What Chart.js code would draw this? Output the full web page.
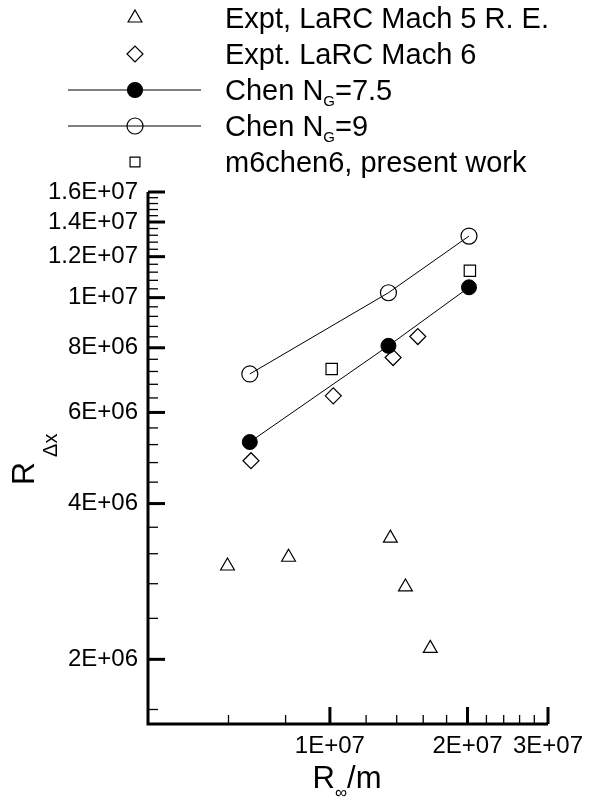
<!DOCTYPE html>
<html>
<head>
<meta charset="utf-8">
<title>R_dx vs R_inf/m</title>
<script src="https://cdn.jsdelivr.net/npm/chart.js@4.4.1/dist/chart.umd.min.js"></script>
<style>
  html, body { margin: 0; padding: 0; background: #fff; }
</style>
</head>
<body>
<canvas id="chart-area" width="593" height="802"></canvas>
<script>
// unit Reynolds number R_inf/m (x) and transition Reynolds number R_dx (y)
var mach5X = [5.97e6, 8.12e6, 1.356e7, 1.463e7, 1.658e7];
var mach5Y = [3.03e6, 3.15e6, 3.43e6, 2.76e6, 2.10e6];
var mach6X = [6.72e6, 1.017e7, 1.375e7, 1.557e7];
var mach6Y = [4.84e6, 6.46e6, 7.66e6, 8.41e6];
var chenX = [6.68e6, 1.343e7, 2.015e7];
var chen75Y = [5.26e6, 8.07e6, 1.047e7];
var chen9Y = [7.12e6, 1.022e7, 1.315e7];
var presentX = [1.009e7, 2.024e7];
var presentY = [7.28e6, 1.127e7];

// axis ticks
var xMajor = [1e7, 2e7, 3e7];
var xMajorLabels = ['1E+07', '2E+07', '3E+07'];
var xMinor = [6e6, 8e6, 1.2e7, 1.4e7, 1.6e7, 1.8e7, 2.2e7, 2.4e7, 2.6e7, 2.8e7];
var yMajor = [2e6, 4e6, 6e6, 8e6, 1e7, 1.2e7, 1.4e7, 1.6e7];
var yMajorLabels = ['2E+06', '4E+06', '6E+06', '8E+06', '1E+07', '1.2E+07', '1.4E+07', '1.6E+07'];
var yMinor = [1.6e6, 2.4e6, 2.8e6, 3.2e6, 3.6e6, 4.4e6, 4.8e6, 5.2e6, 5.6e6,
              6.4e6, 6.8e6, 7.2e6, 7.6e6, 8.4e6, 8.8e6, 9.2e6, 9.6e6,
              1.04e7, 1.08e7, 1.12e7, 1.16e7, 1.24e7, 1.28e7, 1.32e7, 1.36e7,
              1.44e7, 1.48e7, 1.52e7, 1.56e7];

var FONT = '"Liberation Sans", Arial, sans-serif';

function pts(xs, ys) {
    return xs.map(function (x, i) { return {x: x, y: ys[i]}; });
}

function tickList(major, minor) {
    return major.concat(minor).sort(function (a, b) { return a - b; })
        .map(function (v) { return {value: v}; });
}

// text with optional subscript pieces: [['Chen N'], ['G', 1], ['=7.5']]
function richWidth(ctx, parts, size, subSize) {
    var w = 0;
    parts.forEach(function (p) {
        ctx.font = (p[1] ? subSize : size) + 'px ' + FONT;
        w += ctx.measureText(p[0]).width;
    });
    return w;
}

function drawRich(ctx, parts, x, y, size, subSize, subDrop) {
    ctx.textAlign = 'left';
    ctx.textBaseline = 'alphabetic';
    parts.forEach(function (p) {
        ctx.font = (p[1] ? subSize : size) + 'px ' + FONT;
        ctx.fillText(p[0], x, p[1] ? y + subDrop : y);
        x += ctx.measureText(p[0]).width;
    });
}

var legendRows = [
    {parts: [['Expt, LaRC Mach 5 R. E.']], style: 'triangle', radius: 8, fill: false, line: false},
    {parts: [['Expt. LaRC Mach 6']], style: 'rectRot', radius: 8, fill: false, line: false},
    {parts: [['Chen N'], ['G', 1], ['=7.5']], style: 'circle', radius: 7.5, fill: true, line: true},
    {parts: [['Chen N'], ['G', 1], ['=9']], style: 'circle', radius: 8, fill: false, line: true},
    {parts: [['m6chen6, present work']], style: 'rect', radius: 7, fill: false, line: false}
];

var frame = {
    id: 'frame',
    afterDraw: function (chart) {
        var ctx = chart.ctx;
        var a = chart.chartArea;
        var xs = chart.scales.x;
        var ys = chart.scales.y;
        ctx.save();
        ctx.strokeStyle = '#000';
        ctx.fillStyle = '#000';

        function seg(x1, y1, x2, y2, w) {
            ctx.lineWidth = w;
            ctx.beginPath();
            ctx.moveTo(x1, y1);
            ctx.lineTo(x2, y2);
            ctx.stroke();
        }

        // inward tick marks
        xMajor.forEach(function (v) {
            var p = xs.getPixelForValue(v);
            seg(p, a.bottom, p, a.bottom - 17, 3);
        });
        xMinor.forEach(function (v) {
            var p = xs.getPixelForValue(v);
            seg(p, a.bottom, p, a.bottom - 9, 1.3);
        });
        yMajor.forEach(function (v) {
            var p = ys.getPixelForValue(v);
            seg(a.left, p, a.left + 17, p, 3);
        });
        yMinor.forEach(function (v) {
            var p = ys.getPixelForValue(v);
            seg(a.left, p, a.left + 10, p, 1.3);
        });

        // axis lines
        ctx.lineWidth = 3;
        ctx.lineJoin = 'miter';
        ctx.beginPath();
        ctx.moveTo(a.left, a.top);
        ctx.lineTo(a.left, a.bottom);
        ctx.lineTo(a.right, a.bottom);
        ctx.stroke();

        // legend
        legendRows.forEach(function (row, i) {
            var y = 18 + 36 * i;
            if (row.line) {
                seg(68, y, 201, y, 1);
            }
            ctx.lineWidth = 1.2;
            ctx.fillStyle = row.fill ? '#000' : 'rgba(0,0,0,0)';
            Chart.helpers.drawPoint(ctx, {pointStyle: row.style, radius: row.radius, borderWidth: 1.2, rotation: 0}, 135, y);
            ctx.fillStyle = '#000';
            drawRich(ctx, row.parts, 225, y + 10, 29, 15, 6);
        });

        // y axis title, rotated
        ctx.save();
        ctx.translate(34, 485);
        ctx.rotate(-Math.PI / 2);
        ctx.font = '32px ' + FONT;
        ctx.textAlign = 'left';
        ctx.textBaseline = 'alphabetic';
        ctx.fillText('R', 0, 0);
        var rw = ctx.measureText('R').width;
        ctx.font = '20px ' + FONT;
        ctx.fillText('\u0394x', rw + 5, 23);
        ctx.restore();

        // x axis title
        var xt = [['R'], ['\u221E', 1], ['/m']];
        var w = richWidth(ctx, xt, 31, 17);
        drawRich(ctx, xt, 347 - w / 2, 788, 31, 17, 10);

        ctx.restore();
    }
};

var config = {
    type: 'scatter',
    data: {
        datasets: [{
            label: 'Expt, LaRC Mach 5 R. E.',
            data: pts(mach5X, mach5Y),
            pointStyle: 'triangle',
            pointRadius: 8,
            pointBorderWidth: 1.2,
            pointBorderColor: '#000',
            pointBackgroundColor: 'rgba(0,0,0,0)',
            showLine: false
        }, {
            label: 'Expt. LaRC Mach 6',
            data: pts(mach6X, mach6Y),
            pointStyle: 'rectRot',
            pointRadius: 8,
            pointBorderWidth: 1.2,
            pointBorderColor: '#000',
            pointBackgroundColor: 'rgba(0,0,0,0)',
            showLine: false
        }, {
            label: 'Chen NG=7.5',
            data: pts(chenX, chen75Y),
            pointStyle: 'circle',
            pointRadius: 7.5,
            pointBorderWidth: 1,
            pointBorderColor: '#000',
            pointBackgroundColor: '#000',
            borderColor: '#000',
            borderWidth: 1,
            showLine: true
        }, {
            label: 'Chen NG=9',
            data: pts(chenX, chen9Y),
            pointStyle: 'circle',
            pointRadius: 8,
            pointBorderWidth: 1.2,
            pointBorderColor: '#000',
            pointBackgroundColor: 'rgba(0,0,0,0)',
            borderColor: '#000',
            borderWidth: 1,
            showLine: true
        }, {
            label: 'm6chen6, present work',
            data: pts(presentX, presentY),
            pointStyle: 'rect',
            pointRadius: 8,
            pointBorderWidth: 1.2,
            pointBorderColor: '#000',
            pointBackgroundColor: 'rgba(0,0,0,0)',
            showLine: false
        }]
    },
    options: {
        responsive: false,
        animation: false,
        clip: false,
        layout: {
            padding: {top: 192, right: 45, left: 0, bottom: 0}
        },
        plugins: {
            legend: {display: false},
            tooltip: {enabled: false}
        },
        scales: {
            x: {
                type: 'logarithmic',
                min: 4e6,
                max: 3e7,
                grid: {display: false, drawTicks: false},
                border: {display: false},
                ticks: {
                    autoSkip: false,
                    maxRotation: 0,
                    padding: 8,
                    color: '#000',
                    font: {family: FONT, size: 24},
                    callback: function (v) {
                        var i = xMajor.indexOf(v);
                        return i < 0 ? '' : xMajorLabels[i];
                    }
                },
                afterBuildTicks: function (scale) {
                    scale.ticks = tickList(xMajor, xMinor);
                },
                afterFit: function (scale) {
                    scale.height = 78;
                }
            },
            y: {
                type: 'logarithmic',
                min: 1.5e6,
                max: 1.6e7,
                grid: {display: false, drawTicks: false},
                border: {display: false},
                ticks: {
                    autoSkip: false,
                    padding: 10,
                    color: '#000',
                    font: {family: FONT, size: 24},
                    callback: function (v) {
                        var i = yMajor.indexOf(v);
                        return i < 0 ? '' : yMajorLabels[i];
                    }
                },
                afterBuildTicks: function (scale) {
                    scale.ticks = tickList(yMajor, yMinor);
                },
                afterFit: function (scale) {
                    scale.width = 148;
                }
            }
        }
    },
    plugins: [frame]
};

var ctx = document.getElementById('chart-area').getContext('2d');
var myChart = new Chart(ctx, config);
</script>
</body>
</html>
